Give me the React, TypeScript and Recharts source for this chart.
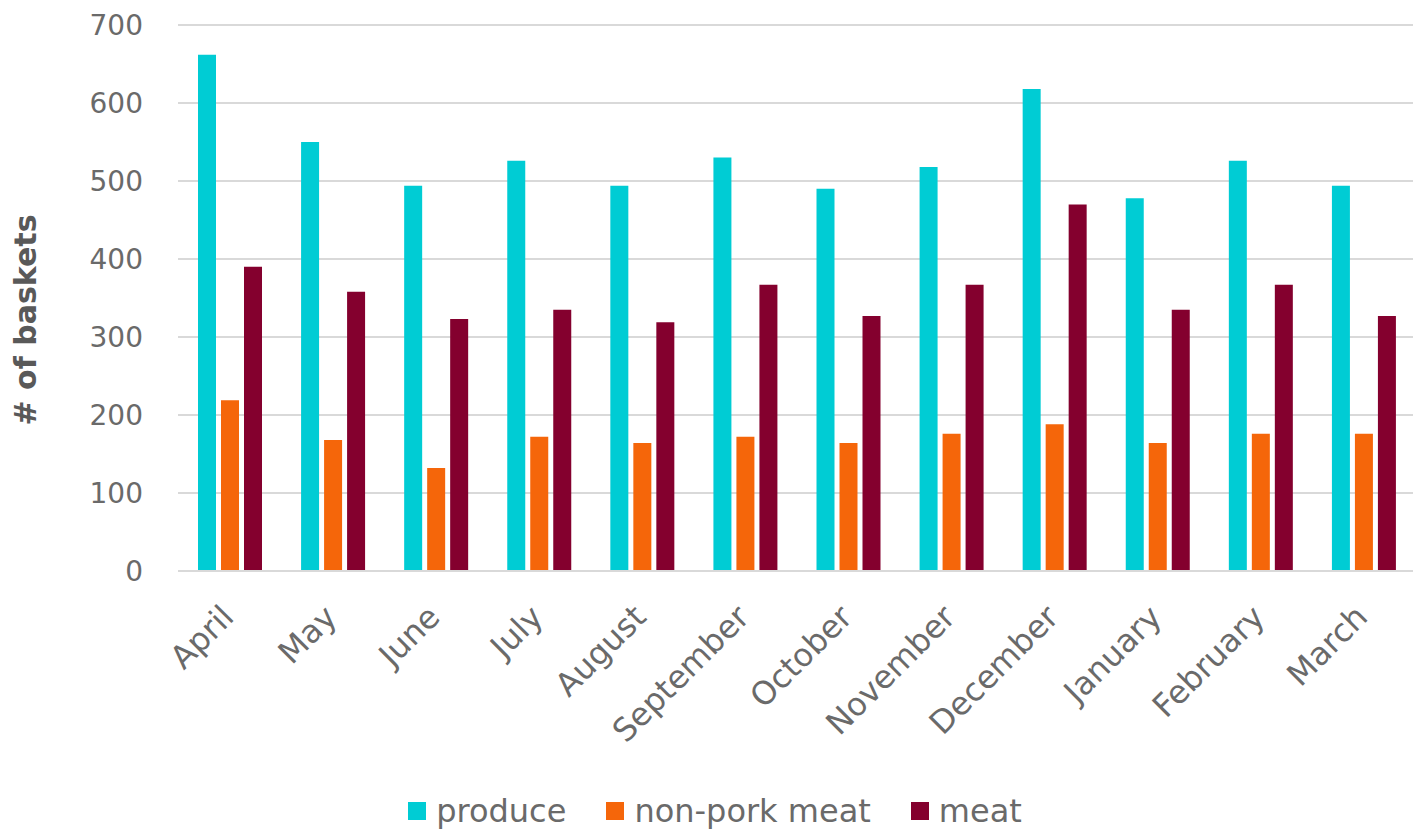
import React from "react";
import { BarChart, Bar, XAxis, YAxis, CartesianGrid, Legend } from "recharts";

const months = ["April", "May", "June", "July", "August", "September", "October", "November", "December", "January", "February", "March"];
const produce = [662, 550, 494, 526, 494, 530, 490, 518, 618, 478, 526, 494];
const nonPorkMeat = [219, 168, 132, 172, 164, 172, 164, 176, 188, 164, 176, 176];
const meat = [390, 358, 323, 335, 319, 367, 327, 367, 470, 335, 367, 327];
const yTicks = [0, 100, 200, 300, 400, 500, 600, 700];

const seriesInfo = [
  { key: "produce", name: "produce", color: "#00CCD4" },
  { key: "nonPork", name: "non-pork meat", color: "#F5660A" },
  { key: "meat", name: "meat", color: "#84002E" },
];

const data = months.map((m, i) => ({
  month: m,
  produce: produce[i],
  nonPork: nonPorkMeat[i],
  meat: meat[i],
}));

const FONT = "'DejaVu Sans', sans-serif";
const TEXT = "#6a6a6a";

const XTick = (props: any) => {
  const { x, y, payload } = props;
  const ax = x + 6;
  const ay = y + 40;
  return (
    <text
      x={ax}
      y={ay}
      transform={`rotate(-45 ${ax} ${ay})`}
      textAnchor="end"
      fontFamily={FONT}
      fontSize={32}
      fill={TEXT}
    >
      {payload.value}
    </text>
  );
};

const YTick = (props: any) => {
  const { x, y, payload } = props;
  return (
    <text x={x} y={y} dy="0.36em" textAnchor="end" fontFamily={FONT} fontSize={28} fill={TEXT}>
      {payload.value}
    </text>
  );
};

const YLabel = () => (
  <text
    x={28}
    y={312}
    transform="rotate(-90 28 312)"
    textAnchor="middle"
    fontFamily={FONT}
    fontSize={30}
    fontWeight="bold"
    fill="#595959"
  >
    # of baskets
  </text>
);

const LegendContent = () => (
  <div
    style={{
      display: "flex",
      justifyContent: "center",
      alignItems: "center",
      fontFamily: FONT,
      fontSize: 32,
      color: TEXT,
      gap: 40,
      paddingTop: 12,
      paddingLeft: 4,
    }}
  >
    {seriesInfo.map((s) => (
      <div key={s.key} style={{ display: "flex", alignItems: "center" }}>
        <span style={{ display: "inline-block", width: 18, height: 18, background: s.color, marginRight: 10 }} />
        <span>{s.name}</span>
      </div>
    ))}
  </div>
);

export default function App() {
  return (
    <div style={{ width: 1410, height: 822 }}>
      <BarChart
        width={1410}
        height={822}
        data={data}
        margin={{ top: 17, right: 3, left: 0, bottom: 0 }}
        barGap={5}
      >
        <CartesianGrid vertical={false} stroke="#d9d9d9" strokeWidth={1.8} />
        <XAxis
          dataKey="month"
          axisLine={{ stroke: "#d9d9d9", strokeWidth: 1.8 }}
          tickLine={false}
          height={209}
          interval={0}
          tick={<XTick />}
        />
        <YAxis
          width={170}
          domain={[0, 700]}
          ticks={yTicks}
          axisLine={false}
          tickLine={false}
          tickSize={0}
          tickMargin={35}
          tick={<YTick />}
          label={<YLabel />}
        />
        <Legend verticalAlign="bottom" height={50} content={<LegendContent />} wrapperStyle={{ left: 0, width: 1410 }} />
        {seriesInfo.map((s) => (
          <Bar key={s.key} dataKey={s.key} name={s.name} fill={s.color} barSize={18} isAnimationActive={false} />
        ))}
      </BarChart>
    </div>
  );
}
